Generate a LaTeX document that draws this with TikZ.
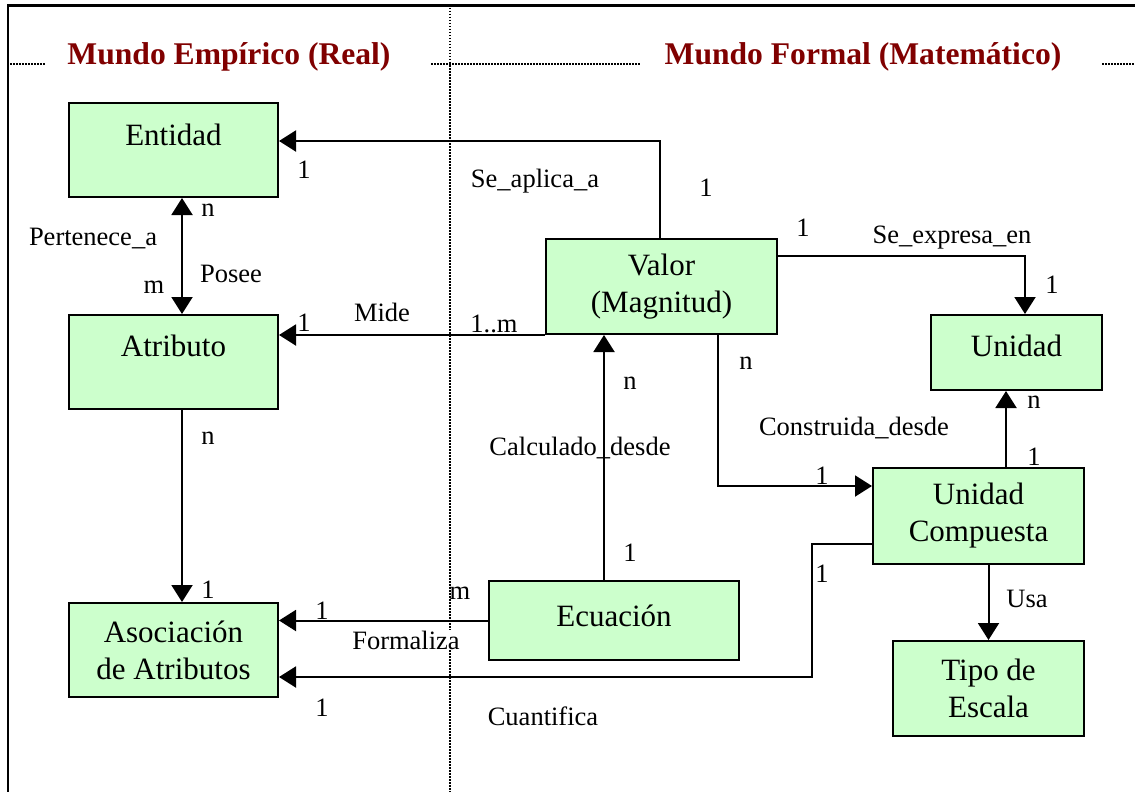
\documentclass[tikz,border=0pt]{standalone}
\usepackage{fontspec}
\setmainfont{Liberation Serif}
\usetikzlibrary{arrows.meta}
\definecolor{boxgreen}{RGB}{204,255,204}
\definecolor{titlered}{RGB}{128,0,0}
\tikzset{
  ent/.style={draw,line width=2pt,fill=boxgreen,align=center,inner sep=0pt,font=\fontsize{31}{37}\selectfont},
  up/.style={text height=21pt,text depth=#1},
  lbl/.style={inner sep=1pt,font=\fontsize{26.5}{30}\selectfont},
  arr/.style={-{Triangle[length=17pt,width=21pt]},line width=2pt},
  dblarr/.style={{Triangle[length=17pt,width=21pt]}-{Triangle[length=17pt,width=21pt]},line width=2pt},
  ttl/.style={font=\fontsize{31.6}{37}\selectfont\bfseries,text=titlered,anchor=base},
  leader/.style={line width=1.8pt,dash pattern=on 1.5pt off 1.5pt},
}
\begin{document}
\begin{tikzpicture}[x=1pt,y=-1pt]
  \useasboundingbox (0,0) rectangle (1135,792);
  % frame and separators
  \draw[line width=3pt] (8,6) -- (1135,6);
  \draw[line width=2.5pt] (8,4.5) -- (8,792);
  \draw[leader] (450,8) -- (450,792);
  \draw[leader] (7,64) -- (45,64);
  \draw[leader] (431,64) -- (641,64);
  \draw[leader] (1102,64) -- (1135,64);
  \node[ttl] (real) at (229,64) {Mundo Empírico (Real)};
  \node[ttl] (formal) at (863,64) {Mundo Formal (Matemático)};

  % entities
  \node[ent,up=31pt,minimum width=209pt,minimum height=94pt] (entidad) at (173.5,150) {Entidad};
  \node[ent,up=33pt,minimum width=209pt,minimum height=94pt] (atributo) at (173.5,362) {Atributo};
  \node[ent,minimum width=209pt,minimum height=94pt] (asoc) at (173.5,650) {Asociación\\de Atributos};
  \node[ent,minimum width=231pt,minimum height=95pt] (valor) at (661.5,286.5) {Valor\\(Magnitud)};
  \node[ent,up=14pt,minimum width=171pt,minimum height=75pt] (unidad) at (1016.5,352.5) {Unidad};
  \node[ent,minimum width=211pt,minimum height=96pt] (ucomp) at (978.5,516) {Unidad\\Compuesta};
  \node[ent,up=10pt,minimum width=250pt,minimum height=79pt] (ecuacion) at (614,620.5) {Ecuación};
  \node[ent,minimum width=191pt,minimum height=95pt] (tipo) at (988.5,688.5) {Tipo de\\Escala};

  % relations
  \draw[arr] ([xshift=-1.5pt]valor.north) |- ([yshift=9pt]entidad.east);
  \draw[dblarr] ([xshift=8.5pt]entidad.south) -- ([xshift=8.5pt]atributo.north);
  \draw[arr] (valor.south west) -- (valor.south west -| atributo.east);
  \draw[arr] ([yshift=30.5pt]valor.east) -| ([xshift=8.5pt]unidad.north);
  \draw[arr] ([xshift=56.5pt]valor.south) |- ([yshift=30pt]ucomp.west);
  \draw[arr] ([xshift=27.5pt]ucomp.north) -- ([xshift=27.5pt]ucomp.north |- unidad.south);
  \draw[arr] ([xshift=-10pt]ecuacion.north) -- ([xshift=-10pt]ecuacion.north |- valor.south);
  \draw[arr] ([xshift=8.5pt]atributo.south) -- ([xshift=8.5pt]asoc.north);
  \draw[arr] (ecuacion.west) -- (ecuacion.west -| asoc.east);
  \draw[arr] ([yshift=-28pt]ucomp.west) -- ++(-60,0) |- ([yshift=-27pt]asoc.east);
  \draw[arr] (tipo.north |- ucomp.south) -- (tipo.north);

  % labels
  \node[lbl] (ap1) at (304,170) {1};
  \node[lbl] (ap) at (535,181) {Se\_aplica\_a};
  \node[lbl] (ap2) at (706,188) {1};
  \node[lbl] (pe1) at (208,210) {n};
  \node[lbl] (pe) at (93,239) {Pertenece\_a};
  \node[lbl] (po) at (231,274) {Posee};
  \node[lbl] (po1) at (154,287) {m};
  \node[lbl] (mi1) at (304,323) {1};
  \node[lbl] (mi) at (382,312) {Mide};
  \node[lbl] (mi2) at (494,324) {1..m};
  \node[lbl] (ex1) at (803,228) {1};
  \node[lbl] (ex) at (952,238) {Se\_expresa\_en};
  \node[lbl] (ex2) at (1052,285) {1};
  \node[lbl] (co1) at (746,363) {n};
  \node[lbl] (co) at (854,428) {Construida\_desde};
  \node[lbl] (co2) at (822,476) {1};
  \node[lbl] (un1) at (1034,402) {n};
  \node[lbl] (un2) at (1034,457) {1};
  \node[lbl] (ca1) at (630,383) {n};
  \node[lbl] (ca) at (580,448) {Calculado\_desde};
  \node[lbl] (ca2) at (630,553) {1};
  \node[lbl] (as1) at (208,438) {n};
  \node[lbl] (as2) at (208,590) {1};
  \node[lbl] (fo1) at (460,593) {m};
  \node[lbl] (fo2) at (322,611) {1};
  \node[lbl,fill=white] (fo) at (406,640) {Formaliza};
  \node[lbl] (cu1) at (822,574) {1};
  \node[lbl] (cu2) at (322,708) {1};
  \node[lbl] (cu) at (543,716) {Cuantifica};
  \node[lbl] (us) at (1027,599) {Usa};
\end{tikzpicture}
\end{document}
